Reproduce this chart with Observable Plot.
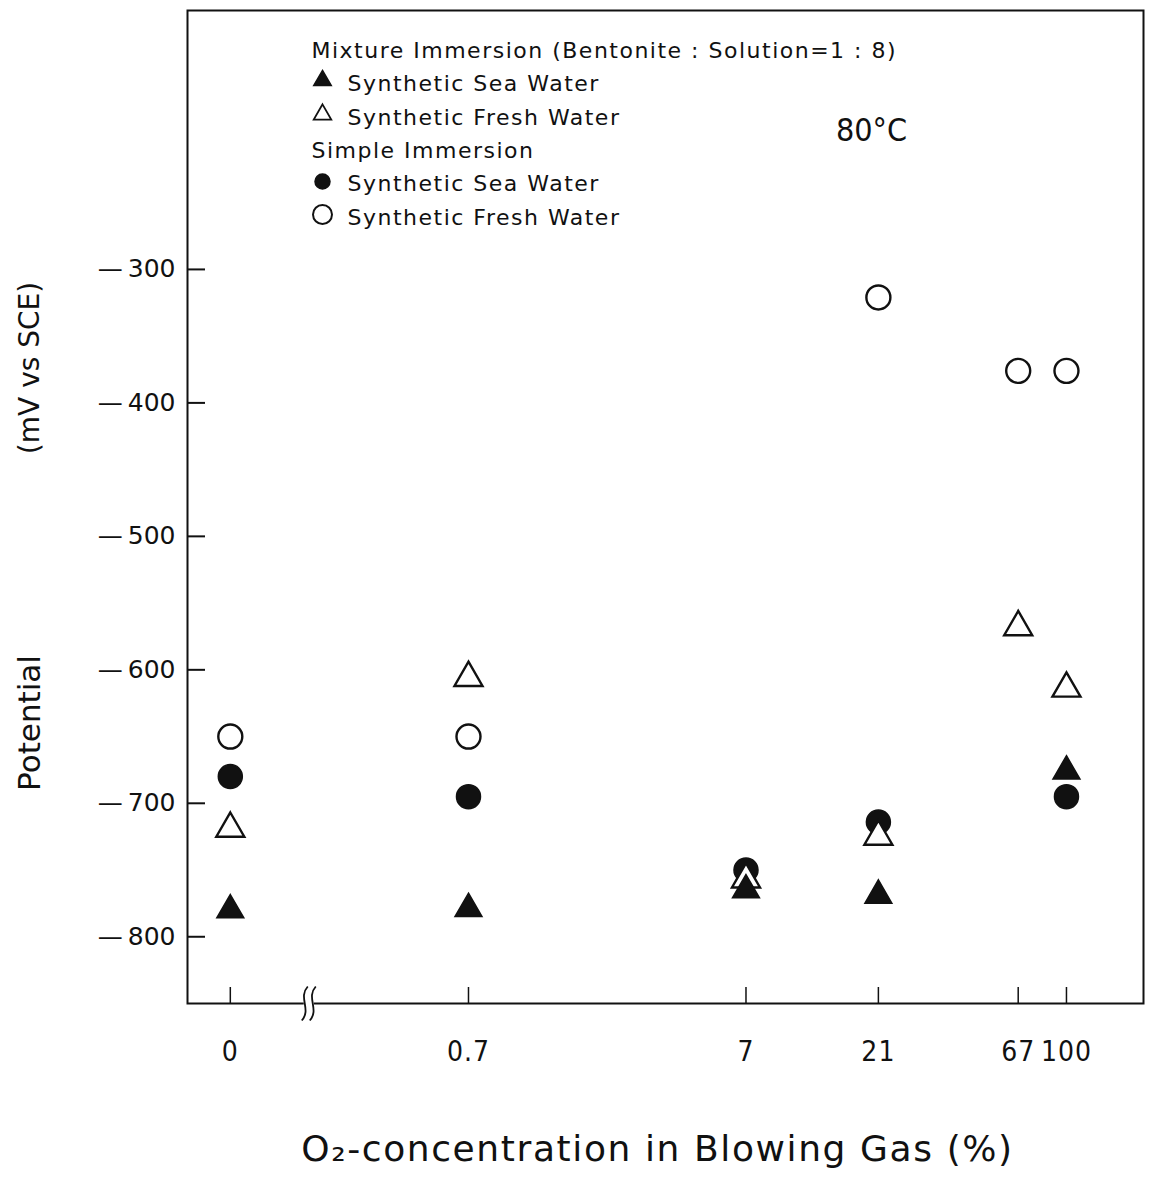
<!DOCTYPE html>
<html><head><meta charset="utf-8">
<script src="https://cdn.jsdelivr.net/npm/d3@7"></script>
<script src="https://cdn.jsdelivr.net/npm/@observablehq/plot@0.6"></script>
<style>
body{margin:0;background:#fff}
#chart g[aria-description="narrow"] text{font-family:"DejaVu Sans Condensed","DejaVu Sans",sans-serif;font-stretch:condensed}
#chart g[aria-description="xticks"] text{font-family:"DejaVu Sans Condensed","DejaVu Sans",sans-serif;font-stretch:condensed;letter-spacing:1px}
#chart g[aria-description="legend"] text{letter-spacing:1.5px}
#chart g[aria-description="xtitle"] text{letter-spacing:1.6px}
</style>
</head><body><div id="chart"></div>
<script>
// ---- data ----
const o2Levels = [0, 0.7, 7, 21, 67, 100];
const o2Labels = ["0", "0.7", "7", "21", "67", "100"];
const mixSeaX = [0, 0.7, 7, 21, 100];
const mixSeaY = [-780, -779, -765, -769, -676];
const mixFreshX = [0, 0.7, 7, 21, 67, 100];
const mixFreshY = [-719, -606, -757, -725, -568, -614];
const simpleSeaX = [0, 0.7, 7, 21, 100];
const simpleSeaY = [-680, -695, -750, -714, -695];
const simpleFreshX = [0, 0.7, 21, 67, 100];
const simpleFreshY = [-650, -650, -321, -376, -376];
const potentialTicks = [-300, -400, -500, -600, -700, -800];
const legendHeaders = "Mixture Immersion (Bentonite : Solution=1 : 8)\n\n\nSimple Immersion\n\n";
const legendLabels = "\nSynthetic Sea Water\nSynthetic Fresh Water\n\nSynthetic Sea Water\nSynthetic Fresh Water";
const tempLabel = "80°C";

// broken log axis: where "0" and the break glyph sit
const zeroAt = 0.097;
const breakAt = 0.186;
const pos = v => (v === 0 ? zeroAt : v);
const rows = (xs, ys) => xs.map((x, i) => ({x: pos(x), y: ys[i]}));

const ink = "#111";
const breakSymbol = {draw(ctx) {
  for (const ox of [-4, 4]) {
    ctx.moveTo(ox + 3, -17);
    ctx.bezierCurveTo(ox - 7, -6, ox + 7, 6, ox - 3, 17);
  }
}};
const gapSymbol = {draw(ctx) {
  ctx.moveTo(-5, -4); ctx.lineTo(5, -4); ctx.lineTo(5, 4); ctx.lineTo(-5, 4); ctx.closePath();
}};
const legendDot = (dy, symbol, r, fill, sw) =>
  Plot.dot([0], {frameAnchor: "top-left", dx: 135, dy, symbol, r, fill, stroke: ink, strokeWidth: sw});

const chart = Plot.plot({
  width: 1150, height: 1180,
  marginLeft: 187, marginRight: 7, marginTop: 10, marginBottom: 177,
  style: {background: "white", color: ink, fontFamily: "DejaVu Sans", overflow: "visible"},
  x: {type: "log", domain: [0.068, 189.5], axis: null},
  y: {domain: [-850, -106], axis: null},
  marks: [
    Plot.frame({stroke: ink, strokeWidth: 2}),
    Plot.axisY({ticks: potentialTicks, tickSize: 0, tickPadding: 12, fontSize: 25,
      tickFormat: d => "—\u2009" + Math.abs(d), label: null}),
    Plot.tickY(potentialTicks, {y: d => d, insetRight: 938, stroke: ink, strokeWidth: 2}),
    Plot.tickX(o2Levels, {x: pos, insetTop: 977, stroke: ink, strokeWidth: 1.5}),
    Plot.text(o2Levels, {x: pos, text: (d, i) => o2Labels[i], frameAnchor: "bottom", dy: 57, fontSize: 28, fill: ink, ariaDescription: "xticks"}),
    Plot.dot([breakAt], {x: d => d, frameAnchor: "bottom", symbol: gapSymbol, r: 10, fill: "white", stroke: null}),
    Plot.dot([breakAt], {x: d => d, frameAnchor: "bottom", symbol: breakSymbol, r: 10, fill: "none", stroke: ink, strokeWidth: 1.8}),
    // data markers
    Plot.dot(rows(simpleFreshX, simpleFreshY), {x: "x", y: "y", symbol: "circle", r: 12, fill: "white", stroke: ink, strokeWidth: 2.4}),
    Plot.dot(rows(simpleSeaX, simpleSeaY), {x: "x", y: "y", symbol: "circle", r: 12, fill: ink, stroke: ink, strokeWidth: 1.5}),
    Plot.dot(rows(mixFreshX, mixFreshY), {x: "x", y: "y", symbol: "triangle", r: 10.4, fill: "white", stroke: ink, strokeWidth: 2.4}),
    Plot.dot(rows(mixSeaX, mixSeaY), {x: "x", y: "y", symbol: "triangle", r: 10, fill: ink, stroke: ink, strokeWidth: 1.5}),
    // legend
    Plot.text([legendHeaders], {text: d => d, frameAnchor: "top-left", dx: 124, dy: 24, lineAnchor: "top", textAnchor: "start", lineHeight: 1.515, fontSize: 22, fill: ink, ariaDescription: "legend"}),
    Plot.text([legendLabels], {text: d => d, frameAnchor: "top-left", dx: 160, dy: 24, lineAnchor: "top", textAnchor: "start", lineHeight: 1.515, fontSize: 22, fill: ink, ariaDescription: "legend"}),
    legendDot(70, "triangle", 6.5, ink, 1.5),
    legendDot(104, "triangle", 6.5, "white", 1.8),
    legendDot(171, "circle", 7.5, ink, 1.5),
    legendDot(204, "circle", 9.5, "white", 2),
    Plot.text([tempLabel], {text: d => d, frameAnchor: "top-left", dx: 684, dy: 108, textAnchor: "middle", fontSize: 32, fill: ink, ariaDescription: "narrow"}),
    // axis titles
    Plot.text(["Potential"], {text: d => d, frameAnchor: "left", dx: -157, dy: 216, rotate: -90, textAnchor: "middle", fontSize: 31, fill: ink}),
    Plot.text(["(mV vs SCE)"], {text: d => d, frameAnchor: "left", dx: -157, dy: -139, rotate: -90, textAnchor: "middle", fontSize: 28, fill: ink}),
    Plot.text(["O₂-concentration in Blowing Gas (%)"], {text: d => d, frameAnchor: "bottom", dx: -8, dy: 157, fontSize: 36, fill: ink, ariaDescription: "xtitle"})
  ]
});
document.getElementById("chart").append(chart);
</script>
</body></html>
